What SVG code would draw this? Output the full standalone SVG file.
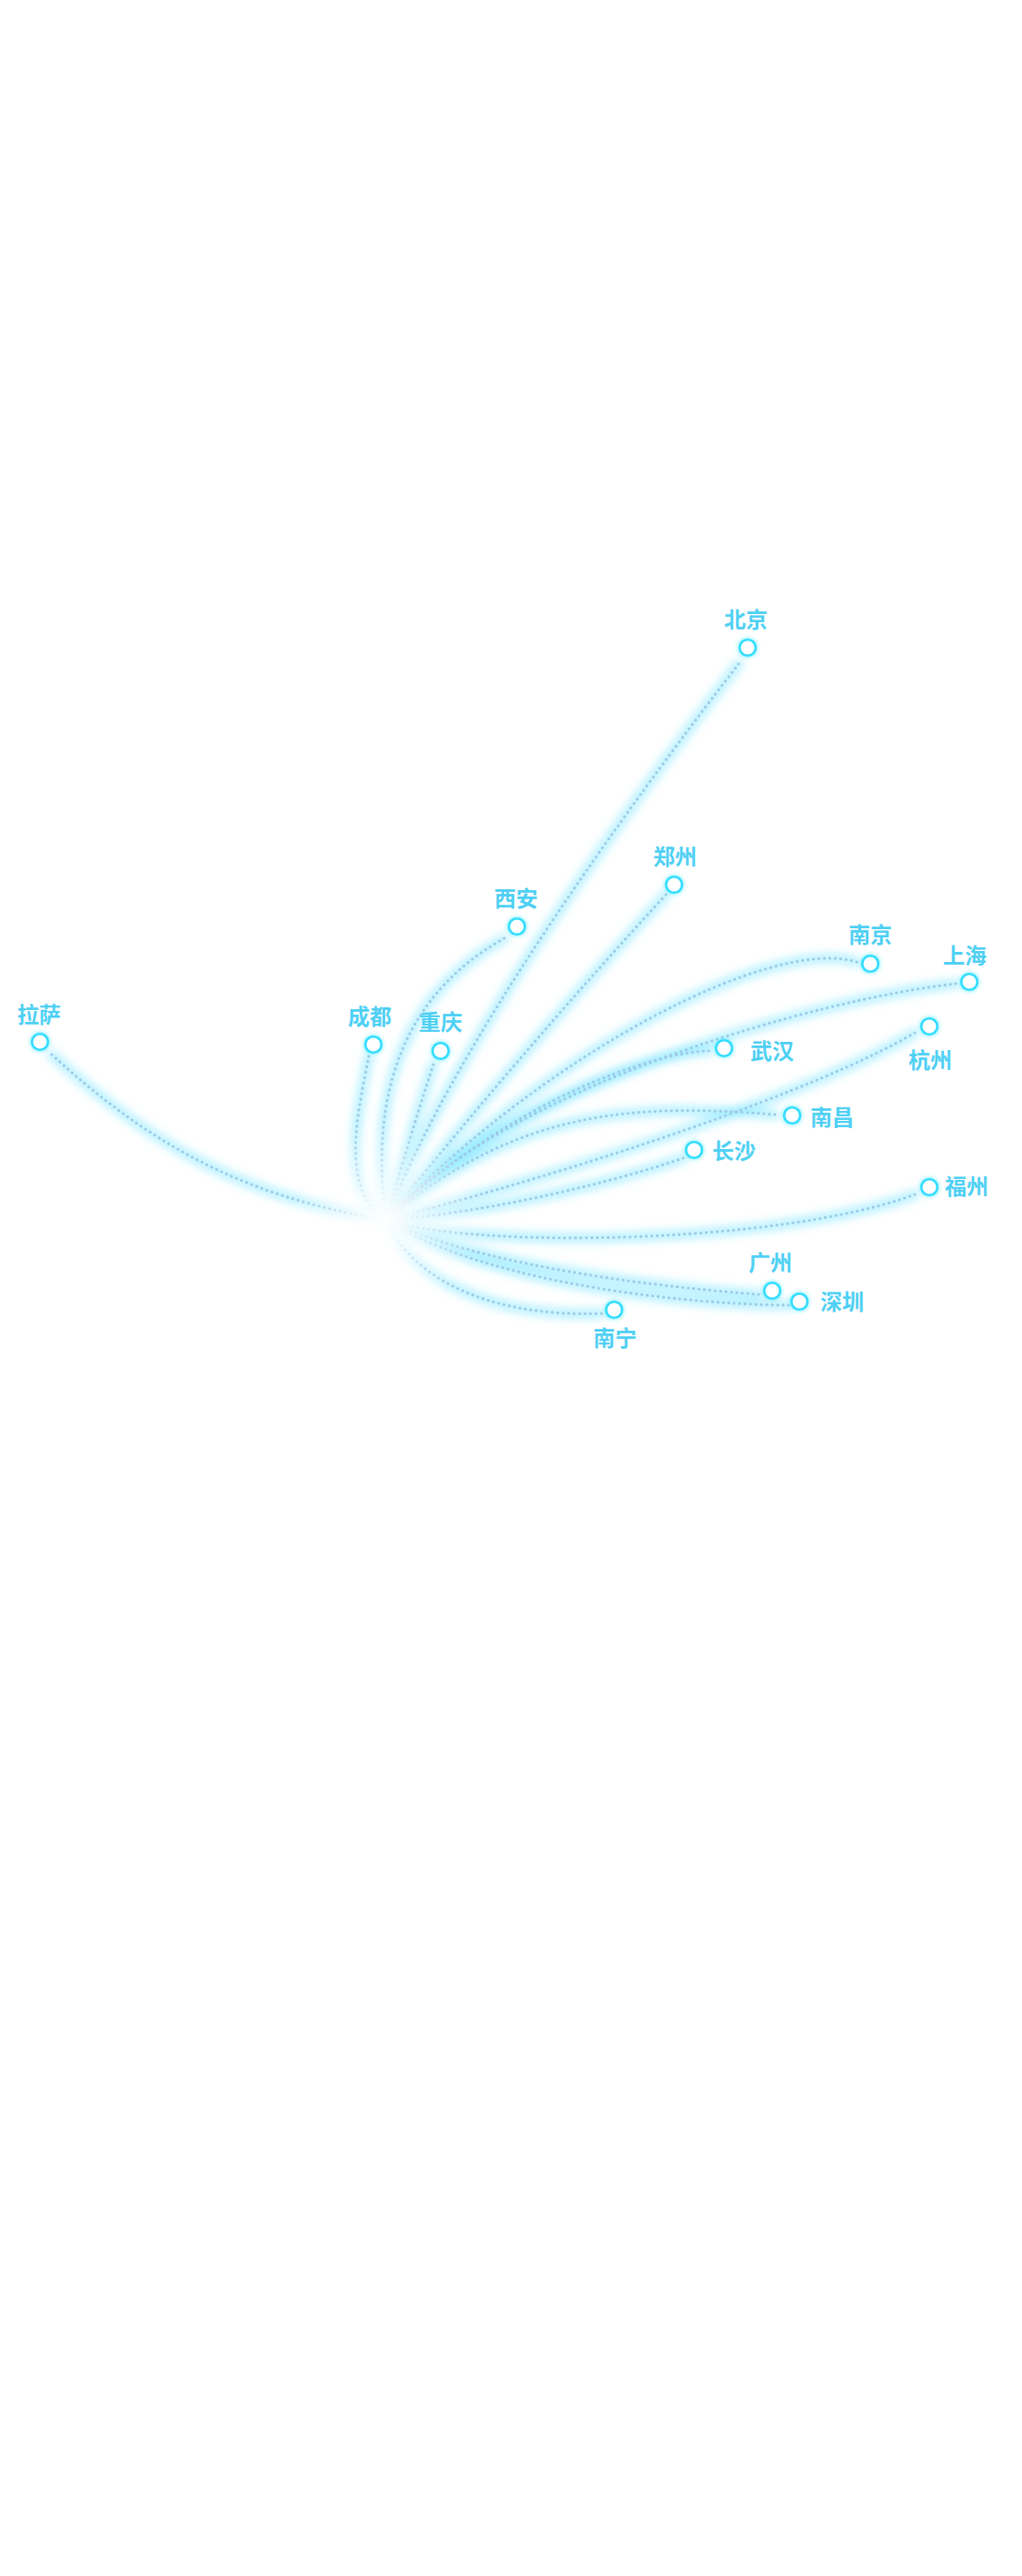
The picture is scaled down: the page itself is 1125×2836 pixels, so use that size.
<svg xmlns="http://www.w3.org/2000/svg" xmlns:xlink="http://www.w3.org/1999/xlink" width="1125" height="2836" viewBox="0 0 1125 2836">
<style>
.glow{fill:none;stroke:#7fe8ff;stroke-width:11;stroke-opacity:0.55;stroke-linecap:round}
.dots{fill:none;stroke:#9dc9e8;stroke-width:3.2;stroke-dasharray:0 6;stroke-linecap:round}
.city circle{fill:#ffffff;stroke:#33ddff;stroke-width:2.6}
.city text{font-family:"Noto Sans CJK SC","Noto Sans",sans-serif;font-size:24px;font-weight:700;fill:#4fd0f4;text-anchor:middle}
</style>
<defs>
<radialGradient id="fadeGrad" gradientUnits="userSpaceOnUse" cx="425" cy="1343" r="115">
<stop offset="0" stop-color="#000"/>
<stop offset="0.14" stop-color="#1a1a1a"/>
<stop offset="0.5" stop-color="#8a8a8a"/>
<stop offset="0.92" stop-color="#fff"/>
</radialGradient>
<mask id="fade" maskUnits="userSpaceOnUse" x="0" y="0" width="1125" height="2836">
<rect x="0" y="0" width="1125" height="2836" fill="url(#fadeGrad)"/>
</mask>
<filter id="blur" x="-20%" y="-20%" width="140%" height="140%">
<feGaussianBlur stdDeviation="5"/>
</filter>
<filter id="ring" x="-100%" y="-100%" width="300%" height="300%">
<feGaussianBlur in="SourceAlpha" stdDeviation="2.5" result="b"/>
<feFlood flood-color="#33e6ff" flood-opacity="0.8"/>
<feComposite in2="b" operator="in" result="g"/>
<feMerge><feMergeNode in="g"/><feMergeNode in="SourceGraphic"/></feMerge>
</filter>
<path id="p-lasa" d="M57,1161 C167,1262 270,1318 425,1343"/>
<path id="p-chengdu" d="M406,1163 C395,1220 372,1310 425,1343"/>
<path id="p-xian" d="M555,1033 C480,1075 400,1160 425,1343"/>
<path id="p-chongqing" d="M477,1172 Q450,1255 425,1343"/>
<path id="p-beijing" d="M813,731 C690,890 500,1150 425,1343"/>
<path id="p-zhengzhou" d="M733,985 Q572,1160 425,1343"/>
<path id="p-nanjing" d="M943,1059 C850,1030 600,1160 425,1343"/>
<path id="p-shanghai" d="M1052,1083 C900,1100 560,1195 425,1343"/>
<path id="p-wuhan" d="M780,1157 C720,1158 560,1212 425,1343"/>
<path id="p-hangzhou" d="M1007,1137 C900,1200 650,1285 425,1343"/>
<path id="p-nanchang" d="M853,1227 C700,1215 570,1220 425,1343"/>
<path id="p-changsha" d="M752,1275 C680,1300 540,1335 425,1343"/>
<path id="p-fuzhou" d="M1007,1315 C860,1370 520,1375 425,1343"/>
<path id="p-guangzhou" d="M835,1425 C700,1415 520,1390 425,1343"/>
<path id="p-shenzhen" d="M868,1437 C720,1435 520,1405 425,1343"/>
<path id="p-nanning" d="M662,1446 C560,1450 460,1420 425,1343"/>
</defs>
<rect x="0" y="0" width="1125" height="2836" fill="#ffffff"/>
<g id="connectors" mask="url(#fade)">
<g id="connector-glow" filter="url(#blur)">
<use xlink:href="#p-lasa" class="glow"/>
<use xlink:href="#p-chengdu" class="glow"/>
<use xlink:href="#p-xian" class="glow"/>
<use xlink:href="#p-chongqing" class="glow"/>
<use xlink:href="#p-beijing" class="glow"/>
<use xlink:href="#p-zhengzhou" class="glow"/>
<use xlink:href="#p-nanjing" class="glow"/>
<use xlink:href="#p-shanghai" class="glow"/>
<use xlink:href="#p-wuhan" class="glow"/>
<use xlink:href="#p-hangzhou" class="glow"/>
<use xlink:href="#p-nanchang" class="glow"/>
<use xlink:href="#p-changsha" class="glow"/>
<use xlink:href="#p-fuzhou" class="glow"/>
<use xlink:href="#p-guangzhou" class="glow"/>
<use xlink:href="#p-shenzhen" class="glow"/>
<use xlink:href="#p-nanning" class="glow"/>
</g>
<g id="connector-dots">
<use xlink:href="#p-lasa" class="dots"/>
<use xlink:href="#p-chengdu" class="dots"/>
<use xlink:href="#p-xian" class="dots"/>
<use xlink:href="#p-chongqing" class="dots"/>
<use xlink:href="#p-beijing" class="dots"/>
<use xlink:href="#p-zhengzhou" class="dots"/>
<use xlink:href="#p-nanjing" class="dots"/>
<use xlink:href="#p-shanghai" class="dots"/>
<use xlink:href="#p-wuhan" class="dots"/>
<use xlink:href="#p-hangzhou" class="dots"/>
<use xlink:href="#p-nanchang" class="dots"/>
<use xlink:href="#p-changsha" class="dots"/>
<use xlink:href="#p-fuzhou" class="dots"/>
<use xlink:href="#p-guangzhou" class="dots"/>
<use xlink:href="#p-shenzhen" class="dots"/>
<use xlink:href="#p-nanning" class="dots"/>
</g>
</g>
<g id="beijing" class="city"><circle cx="823" cy="713" r="8.8" filter="url(#ring)"/><text x="821" y="691">北京</text></g>
<g id="lasa" class="city"><circle cx="44" cy="1147" r="8.8" filter="url(#ring)"/><text x="43" y="1126">拉萨</text></g>
<g id="xian" class="city"><circle cx="569" cy="1020" r="8.8" filter="url(#ring)"/><text x="568" y="998">西安</text></g>
<g id="chengdu" class="city"><circle cx="411" cy="1150" r="8.8" filter="url(#ring)"/><text x="407" y="1128">成都</text></g>
<g id="chongqing" class="city"><circle cx="485" cy="1157" r="8.8" filter="url(#ring)"/><text x="485" y="1134">重庆</text></g>
<g id="zhengzhou" class="city"><circle cx="742" cy="974" r="8.8" filter="url(#ring)"/><text x="743" y="952">郑州</text></g>
<g id="nanjing" class="city"><circle cx="958" cy="1061" r="8.8" filter="url(#ring)"/><text x="958" y="1038">南京</text></g>
<g id="shanghai" class="city"><circle cx="1067" cy="1081" r="8.8" filter="url(#ring)"/><text x="1062" y="1061">上海</text></g>
<g id="wuhan" class="city"><circle cx="797" cy="1154" r="8.8" filter="url(#ring)"/><text x="850" y="1166">武汉</text></g>
<g id="hangzhou" class="city"><circle cx="1023" cy="1130" r="8.8" filter="url(#ring)"/><text x="1024" y="1176">杭州</text></g>
<g id="nanchang" class="city"><circle cx="872" cy="1228" r="8.8" filter="url(#ring)"/><text x="916" y="1239">南昌</text></g>
<g id="changsha" class="city"><circle cx="764" cy="1266" r="8.8" filter="url(#ring)"/><text x="808" y="1276">长沙</text></g>
<g id="fuzhou" class="city"><circle cx="1023" cy="1307" r="8.8" filter="url(#ring)"/><text x="1064" y="1315">福州</text></g>
<g id="guangzhou" class="city"><circle cx="850" cy="1421" r="8.8" filter="url(#ring)"/><text x="848" y="1399">广州</text></g>
<g id="shenzhen" class="city"><circle cx="880" cy="1433" r="8.8" filter="url(#ring)"/><text x="927" y="1442">深圳</text></g>
<g id="nanning" class="city"><circle cx="676" cy="1442" r="8.8" filter="url(#ring)"/><text x="677" y="1482">南宁</text></g>
</svg>
